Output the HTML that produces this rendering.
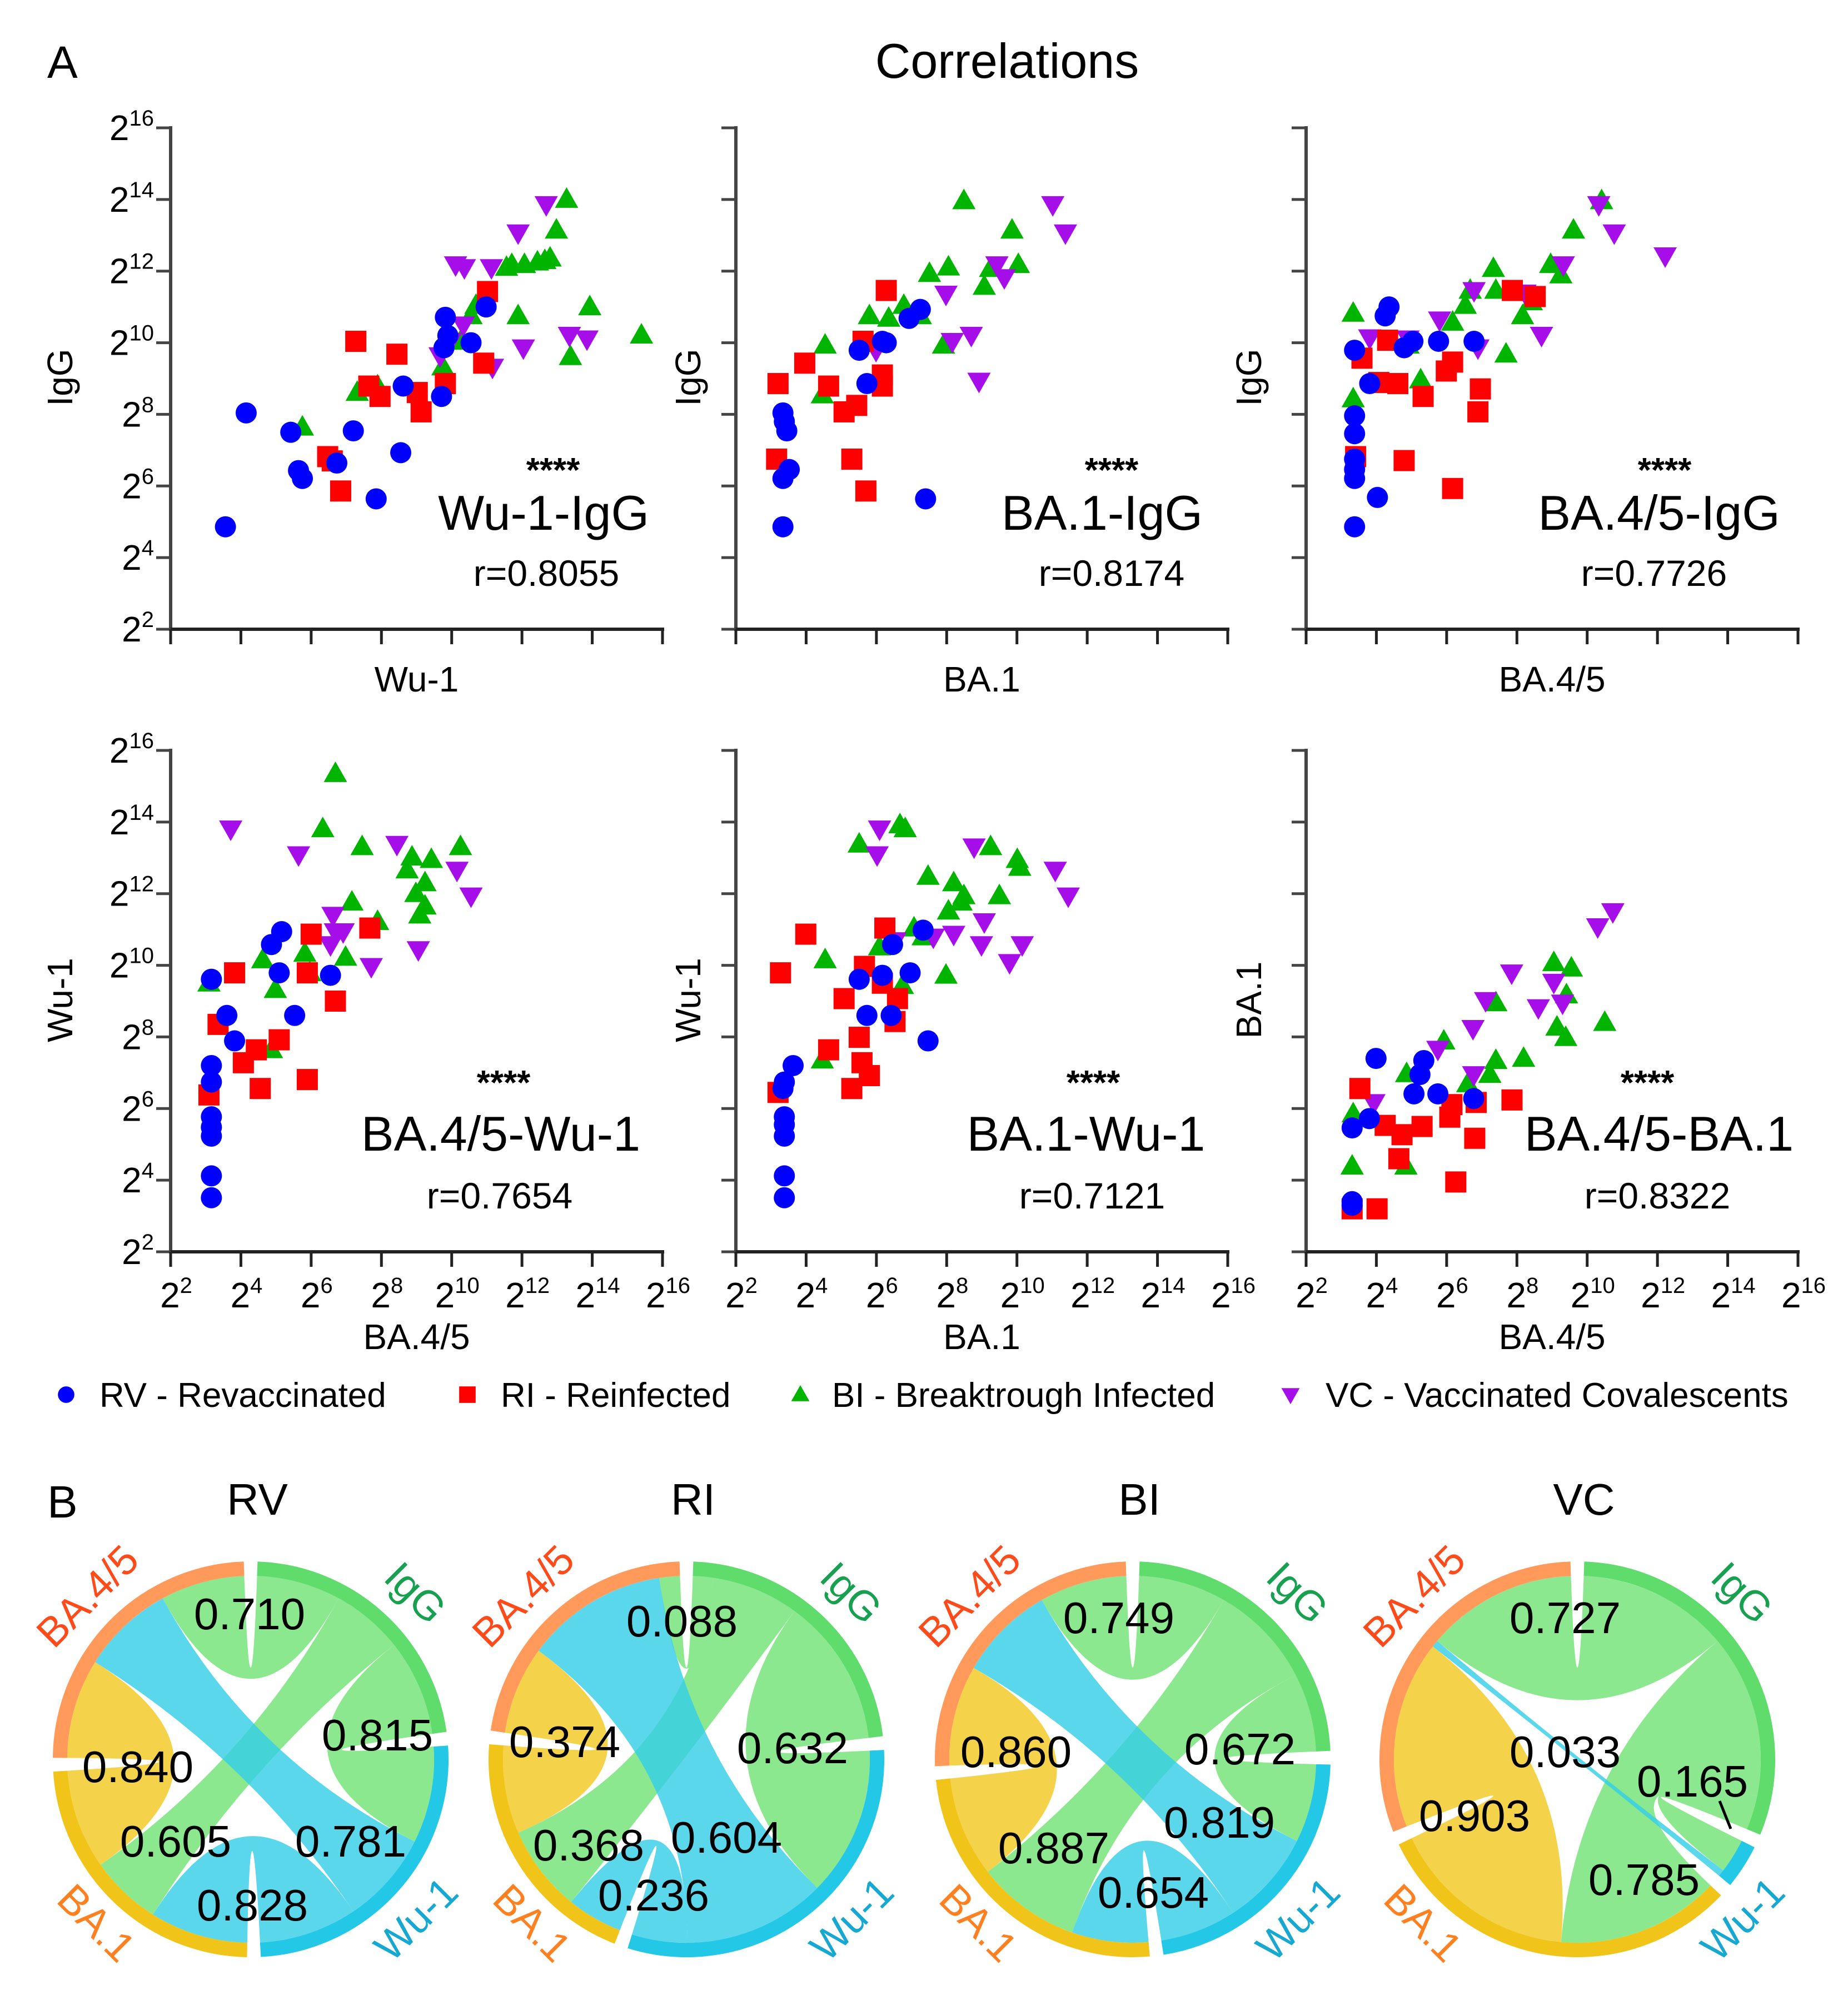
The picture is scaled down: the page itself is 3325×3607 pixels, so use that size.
<!DOCTYPE html>
<html><head><meta charset="utf-8"><style>
html,body{margin:0;padding:0;background:#fff;}
svg{display:block;font-family:"Liberation Sans",Arial,sans-serif;}
</style></head><body>
<svg id="fig" xmlns="http://www.w3.org/2000/svg" width="3325" height="3607" viewBox="0 0 3325 3607">
<rect width="3325" height="3607" fill="#fff"/>
<text x="85" y="140" font-size="82">A</text>
<text x="1812" y="140" font-size="88" text-anchor="middle">Correlations</text>
<text x="85" y="2730" font-size="82">B</text>
<g id="scatter"></g>
<g id="legend"></g>
<g id="chords"></g>
</svg>
<script>
// ---------- scatter data (log2 titers) ----------
const groupNames = ['RV - Revaccinated','RI - Reinfected','BI - Breaktrough Infected','VC - Vaccinated Covalescents'];
const wuIgG_RV = [[3.56,4.86],[4.15,8.04],[5.42,7.5],[5.64,6.43],[5.75,6.21],[6.73,6.64],[7.2,7.54],[7.85,5.64],[8.55,6.93],[8.62,8.79],[9.71,8.5],[9.78,9.86],[9.82,10.71],[10.55,10.0],[10.98,11.0],[9.89,10.2]];
const wuIgG_RI = [[6.47,6.82],[6.84,5.86],[7.27,10.04],[7.64,8.79],[7.96,8.5],[8.44,9.68],[9.02,8.61],[9.13,8.07],[9.82,8.86],[10.91,9.43],[11.02,11.43],[6.6,6.7]];
const wuIgG_BI = [[5.75,7.64],[7.31,8.61],[7.89,8.79],[9.75,9.32],[10.25,10.04],[10.55,10.75],[10.69,11.04],[11.89,10.75],[11.56,12.1],[11.71,12.18],[12.07,12.18],[12.44,12.25],[12.65,12.29],[12.8,12.36],[12.98,13.14],[13.27,14.0],[13.93,11.0],[13.38,9.61],[15.4,10.21]];
const wuIgG_VC = [[9.67,9.64],[10.33,10.5],[10.11,12.18],[10.36,12.1],[11.13,12.1],[11.89,13.07],[12.69,13.86],[12.04,9.86],[13.35,10.21],[13.85,10.11],[9.96,10.04],[11.16,9.32]];

const ba1IgG_RV = [[3.34,4.86],[3.34,8.04],[3.45,7.54],[3.52,6.46],[3.34,6.21],[5.73,8.86],[5.51,9.79],[6.17,10.04],[6.93,10.68],[7.25,10.93],[7.4,5.64],[6.28,10.0],[3.38,7.8]];
const ba1IgG_RI = [[3.2,8.86],[3.16,6.75],[3.96,9.43],[4.64,8.79],[5.08,8.07],[5.3,6.75],[5.44,8.25],[5.7,5.86],[5.62,10.04],[6.17,8.79],[6.28,11.46],[6.17,9.1]];
const ba1IgG_BI = [[4.46,8.54],[4.54,9.93],[5.8,10.75],[6.35,10.68],[6.78,11.04],[7.25,10.75],[7.51,11.93],[7.91,9.93],[8.05,12.11],[8.49,13.96],[9.07,11.57],[9.25,12.07],[9.86,13.14],[10.04,12.18]];
const ba1IgG_VC = [[5.99,9.79],[7.98,11.36],[8.16,10.04],[8.7,10.21],[8.92,8.93],[9.43,12.18],[9.64,11.82],[11.02,13.86],[11.38,13.07]];

const ba45IgG_RV = [[3.38,4.86],[4.03,5.68],[3.38,6.21],[3.38,6.46],[3.38,6.75],[3.38,7.46],[3.38,7.96],[3.38,9.79],[3.81,8.86],[4.25,10.75],[4.36,11.0],[5.04,10.04],[5.77,10.04],[6.78,10.04],[4.79,9.86]];
const ba45IgG_RI = [[3.41,6.82],[3.59,9.57],[4.07,8.89],[4.61,8.86],[4.79,6.71],[5.33,8.5],[5.99,9.21],[6.17,9.46],[6.17,5.93],[6.89,8.07],[6.96,8.71],[7.87,11.46],[8.52,11.29],[4.32,10.07]];
const ba45IgG_BI = [[3.34,10.82],[3.34,8.43],[4.9,9.93],[5.26,8.96],[6.17,10.57],[6.53,11.04],[6.67,11.46],[7.33,12.07],[7.4,11.46],[7.69,9.68],[8.16,10.75],[8.96,12.18],[9.25,11.89],[9.61,13.14],[10.41,13.96],[8.41,11.14]];
const ba45IgG_VC = [[3.81,10.14],[4.9,10.11],[5.8,10.64],[6.89,9.86],[6.78,11.46],[8.23,11.39],[8.7,10.21],[9.32,12.18],[10.33,13.86],[10.77,13.07],[12.22,12.43]];

const ba45Wu_RV = [[3.16,3.51],[3.16,4.12],[3.16,5.23],[3.16,5.48],[3.16,5.77],[3.16,6.74],[3.16,7.2],[3.16,9.61],[3.6,8.6],[3.82,7.89],[4.87,10.58],[5.16,10.94],[5.09,9.79],[5.53,8.6],[6.55,9.72]];
const ba45Wu_RI = [[3.09,6.38],[3.35,8.35],[3.82,9.79],[4.07,7.28],[4.44,7.64],[4.55,6.56],[5.09,7.92],[5.89,6.81],[6.0,10.87],[5.89,9.79],[6.69,9.0],[7.67,11.04]];
const ba45Wu_BI = [[3.09,9.5],[4.62,10.15],[4.98,9.32],[4.87,7.64],[5.82,10.33],[6.33,13.81],[6.69,15.35],[6.98,10.22],[7.16,11.76],[7.45,13.31],[7.89,11.22],[8.73,12.66],[8.87,13.02],[8.98,12.0],[9.09,11.4],[9.24,12.3],[9.24,11.65],[9.42,12.95],[10.25,13.31],[5.96,9.79]];
const ba45Wu_VC = [[3.71,13.81],[5.64,13.09],[6.55,10.58],[6.69,10.94],[6.91,10.94],[7.71,9.97],[8.44,13.38],[9.05,10.44],[10.15,12.66],[10.55,11.94],[6.62,11.4]];

const ba1Wu_RV = [[3.38,3.51],[3.38,4.12],[3.38,5.23],[3.38,5.55],[3.38,5.77],[3.38,6.74],[3.63,7.2],[3.34,6.56],[5.51,9.61],[5.73,8.6],[6.17,9.72],[6.42,8.6],[6.96,9.79],[7.33,10.98],[7.47,7.89],[6.46,10.58]];
const ba1Wu_RI = [[3.2,6.45],[3.27,9.79],[3.99,10.87],[4.64,7.64],[5.08,9.07],[5.3,6.56],[5.51,7.99],[5.59,7.28],[5.8,6.92],[5.66,9.97],[6.17,9.5],[6.24,11.04],[6.53,8.43],[6.6,9.07]];
const ba1Wu_BI = [[4.46,7.35],[4.54,10.15],[5.51,13.38],[6.09,10.51],[6.67,13.92],[6.74,9.43],[7.07,11.04],[7.33,10.79],[7.47,12.48],[7.98,9.72],[8.05,11.51],[8.2,12.3],[8.41,11.76],[8.49,11.94],[9.25,13.31],[9.5,11.94],[10.01,12.95],[10.08,12.73],[6.82,13.81]];
const ba1Wu_VC = [[6.02,13.09],[6.09,13.81],[6.53,10.69],[7.62,10.79],[8.2,10.87],[8.78,13.31],[8.99,10.58],[9.79,10.08],[10.15,10.58],[11.09,12.66],[11.46,11.94],[9.07,11.22]];

const ba45Ba1_RV = [[3.31,5.46],[3.31,3.4],[3.31,3.3],[3.8,5.72],[3.99,7.4],[5.07,6.41],[5.24,6.95],[5.35,7.34],[5.75,6.41],[6.77,6.28]];
const ba45Ba1_RI = [[3.31,3.2],[4.02,3.2],[3.53,6.56],[4.25,5.53],[4.73,5.27],[4.64,4.6],[5.3,5.5],[6.09,5.76],[6.15,6.11],[6.8,5.17],[6.26,3.95],[6.84,6.17],[7.86,6.24]];
const ba45Ba1_BI = [[3.31,4.39],[3.34,5.85],[4.84,4.39],[4.86,6.97],[5.18,5.46],[5.92,7.88],[6.6,6.69],[7.23,6.95],[7.4,7.34],[7.4,8.95],[8.19,7.4],[9.05,10.07],[9.14,8.27],[9.39,7.98],[9.41,9.17],[9.55,9.92],[10.5,8.4]];
const ba45Ba1_VC = [[3.93,6.17],[5.75,7.66],[6.77,6.95],[6.75,8.24],[7.11,9.02],[7.85,9.79],[8.61,8.82],[9.05,9.53],[9.3,8.95],[10.3,11.08],[10.73,11.5]];

const tickExponents = [2,4,6,8,10,12,14,16];
const panelTitles = ['Wu-1-IgG','BA.1-IgG','BA.4/5-IgG','BA.4/5-Wu-1','BA.1-Wu-1','BA.4/5-BA.1'];
const panelR = ['r=0.8055','r=0.8174','r=0.7726','r=0.7654','r=0.7121','r=0.8322'];
const panelX = ['Wu-1','BA.1','BA.4/5','BA.4/5','BA.1','BA.4/5'];
const panelY = ['IgG','IgG','IgG','Wu-1','Wu-1','BA.1'];

// ---------- chord data ----------
const chordGroups = ['IgG','Wu-1','BA.1','BA.4/5'];
const chordPairs = [[0,1],[0,2],[0,3],[1,2],[1,3],[2,3]];
const chordTitles = ['RV','RI','BI','VC'];
const rvValues = [0.815,0.605,0.710,0.828,0.781,0.840];
const riValues = [0.632,0.368,0.088,0.236,0.604,0.374];
const biValues = [0.672,0.887,0.749,0.654,0.819,0.860];
const vcValues = [0.165,0.785,0.727,0,0.033,0.903];

const NS='http://www.w3.org/2000/svg';
function mk(tag, attrs, parent){const e=document.createElementNS(NS,tag);for(const k in attrs)e.setAttribute(k,attrs[k]);if(parent)parent.appendChild(e);return e;}

const colors=['#0000ff','#ff0000','#00b400','#a50ee8'];
function marker(g,type,x,y){
  let e;
  if(type===0){e=mk('circle',{cx:x,cy:y,r:19,fill:colors[0]},g);}
  else if(type===1){e=mk('rect',{x:x-19,y:y-19,width:38,height:38,fill:colors[1]},g);}
  else if(type===2){e=mk('polygon',{points:`${x},${y-22} ${x-21},${y+15} ${x+21},${y+15}`,fill:colors[2]},g);}
  else {e=mk('polygon',{points:`${x},${y+22} ${x-21},${y-15} ${x+21},${y-15}`,fill:colors[3]},g);}
  return e;
}

const scatterRoot=document.getElementById('scatter');
const panelData=[[wuIgG_RV,wuIgG_RI,wuIgG_BI,wuIgG_VC],[ba1IgG_RV,ba1IgG_RI,ba1IgG_BI,ba1IgG_VC],[ba45IgG_RV,ba45IgG_RI,ba45IgG_BI,ba45IgG_VC],[ba45Wu_RV,ba45Wu_RI,ba45Wu_BI,ba45Wu_VC],[ba1Wu_RV,ba1Wu_RI,ba1Wu_BI,ba1Wu_VC],[ba45Ba1_RV,ba45Ba1_RI,ba45Ba1_BI,ba45Ba1_VC]];
const colX=[307,1324,2350], rowY=[230,1350], W=885, H=902;
const annTitleX=[978,1983,2985,901,1954,2985];
const annStarsX=[995,2000,2995,906,1967,2964];
const annRX=[983,2000,2976,899,1965,2982];
const annY=[[837,921,1030],[1939,2038,2150]];
const yTitleX=[108,1238,2247];

for(let p=0;p<6;p++){
  const col=p%3,row=Math.floor(p/3);
  const x0=colX[col],y0=rowY[row];
  const sx=v=>x0+(v-2)/14*W, sy=v=>y0+(16-v)/14*H;
  const g=mk('g',{},scatterRoot);
  
  
  // axes
  const ya=mk('line',{x1:x0,y1:y0-3,x2:x0,y2:y0+H,stroke:'#444','stroke-width':6},g);
  
  
  const xa=mk('line',{x1:x0-3,y1:y0+H,x2:x0+W+3,y2:y0+H,stroke:'#222','stroke-width':6},g);
  
  
  tickExponents.forEach(t=>{
    mk('line',{x1:x0-26,y1:sy(t),x2:x0,y2:sy(t),stroke:'#444','stroke-width':5},g);
    mk('line',{x1:sx(t),y1:y0+H,x2:sx(t),y2:y0+H+27,stroke:'#222','stroke-width':5},g);
    if(col===0){
      const tl=mk('text',{x:x0-30,y:sy(t)+22,'font-size':64,'text-anchor':'end'},g);
      
      
      tl.appendChild(document.createTextNode('2'));
      const s=mk('tspan',{dy:-26,'font-size':40},tl); s.textContent=t;
    }
    if(row===1){
      const tl=mk('text',{x:sx(t)+10,y:y0+H+100,'font-size':64,'text-anchor':'middle'},g);
      
      
      tl.appendChild(document.createTextNode('2'));
      const s=mk('tspan',{dy:-26,'font-size':40},tl); s.textContent=t;
    }
  });
  // titles
  const xt=mk('text',{x:x0+W/2,y:row===0?y0+H+112:y0+H+175,'font-size':64,'text-anchor':'middle'},g);
  xt.textContent=panelX[p];
  
  
  const yc=y0+H/2-2;
  const yt=mk('text',{x:yTitleX[col]+22,y:yc,'font-size':64,'text-anchor':'middle',transform:`rotate(-90 ${yTitleX[col]+22} ${yc})`},g);
  yt.textContent=panelY[p];
  
  
  // points
  const order=[2,3,1,0];
  order.forEach(gi=>{
    panelData[p][gi].forEach(pt=>{
      const m=marker(g,gi,sx(pt[0]),sy(pt[1]));
      
      
    });
  });
  // annotations
  const ay=annY[row];
  const st=mk('text',{x:annStarsX[p],y:ay[0]+30,'font-size':62,'text-anchor':'middle','font-weight':'bold'},g);
  st.textContent='****';
  
  
  const tt=mk('text',{x:annTitleX[p],y:ay[1]+32,'font-size':88,'text-anchor':'middle'},g);
  tt.textContent=panelTitles[p];
  
  
  const rt=mk('text',{x:annRX[p],y:ay[2]+24,'font-size':66,'text-anchor':'middle'},g);
  rt.textContent=panelR[p];
  
  
}

// ---------- legend ----------
const leg=document.getElementById('legend');
const legSymX=[119,841,1440,2322], legTxtX=[179,901,1497,2385];
groupNames.forEach((n,i)=>{
  const ge=mk('g',{},leg);
  
  
  const m=marker(ge,i,legSymX[i],2509);
  m.setAttribute('transform',`translate(${legSymX[i]} 2509) scale(0.78) translate(${-legSymX[i]} -2509)`);
  const t=mk('text',{x:legTxtX[i],y:2531,'font-size':62},ge);
  t.textContent=n;
});

// ---------- chord diagrams ----------
const chordRoot=document.getElementById('chords');
const chordSets=[rvValues,riValues,biValues,vcValues];
const chordCX=[451,1235,2038,2838], chordCY=3165;
const ringColors=['#5fdc6b','#22c8e6','#f0c419','#ff9a5a'];
const labelColors=['#16a050','#16a8d0','#ff8020','#ff4a1a'];
const labelOff=[[297,-300,45],[297,287,-45],[-277,294,45],[-294,-294,-45]];
const valuePos=[
 [[679,3121],[316,3312],[449,2903],[454,3427],[631,3312],[248,3178]],
 [[1426,3144],[1059,3319],[1227,2916],[1176,3409],[1307,3305],[1016,3133]],
 [[2231,3146],[1896,3324],[2013,2910],[2075,3404],[2194,3278],[1828,3151]],
 [[3045,3204],[2958,3381],[2816,2910],[null],[2816,3151],[2653,3266]]];
const Rc=330, Rr=343;
function P(cx,cy,r,a){const t=a*Math.PI/180;return [cx+r*Math.sin(t),cy-r*Math.cos(t)];}
function arcPath(cx,cy,r,a0,a1){const p0=P(cx,cy,r,a0),p1=P(cx,cy,r,a1);return `M${p0[0]},${p0[1]} A${r},${r} 0 ${a1-a0>180?1:0} 1 ${p1[0]},${p1[1]}`;}

chordSets.forEach((vals,d)=>{
  const cx=chordCX[d],cy=chordCY;
  const g=mk('g',{},chordRoot);
  
  
  const tt=mk('text',{x:cx+12,y:2725,'font-size':80,'text-anchor':'middle'},g);
  tt.textContent=chordTitles[d];
  
  
  // matrix
  const M=[[0,0,0,0],[0,0,0,0],[0,0,0,0],[0,0,0,0]];
  chordPairs.forEach((pr,k)=>{M[pr[0]][pr[1]]=vals[k];M[pr[1]][pr[0]]=vals[k];});
  const tot=M.map(r=>r.reduce((a,b)=>a+b,0));
  const all=tot.reduce((a,b)=>a+b,0);
  const gap=4, span=360-4*gap;
  const seg={}; let a=gap/2;
  const grpA=[];
  for(let gi=0;gi<4;gi++){
    const a0=a;
    [3,2,1].forEach(k=>{const tj=(gi+k)%4;const w=M[gi][tj]/all*span;seg[gi+'-'+tj]=[a,a+w];a+=w;});
    grpA.push([a0,a]); a+=gap;
  }
  // ribbons
  const drawOrder=[5,0,1,2,3,4];
  drawOrder.forEach(k=>{
    const [i,j]=chordPairs[k]; if(vals[k]<=0)return;
    const s=seg[i+'-'+j],t=seg[j+'-'+i];
    const s0=P(cx,cy,Rc,s[0]),s1=P(cx,cy,Rc,s[1]),t0=P(cx,cy,Rc,t[0]),t1=P(cx,cy,Rc,t[1]);
    const dpath=`M${s0} A${Rc},${Rc} 0 0 1 ${s1} Q${cx},${cy} ${t0} A${Rc},${Rc} 0 0 1 ${t1} Q${cx},${cy} ${s0} Z`;
    let fill='#f4d24a',op=1;
    if(i===0){fill='#8ce88f';}
    else if(i===1){fill='#32cde7';op=0.8;}
    const rb=mk('path',{d:dpath,fill:fill,'fill-opacity':op},g);
    
    
  });
  // ring arcs
  grpA.forEach((ga,gi)=>{
    const ar=mk('path',{d:arcPath(cx,cy,Rr,ga[0],ga[1]),fill:'none',stroke:ringColors[gi],'stroke-width':26},g);
    
    
    const lo=labelOff[gi];
    const lx=cx+lo[0],ly=cy+lo[1];
    const lt=mk('text',{x:lx,y:ly+26,'font-size':74,'text-anchor':'middle',fill:labelColors[gi],transform:`rotate(${lo[2]} ${lx} ${ly})`},g);
    lt.textContent=chordGroups[gi];
    
    
  });
  // values
  vals.forEach((v,k)=>{
    const pos=valuePos[d][k]; if(!pos||pos[0]==null||v<=0)return;
    const vt=mk('text',{x:pos[0],y:pos[1]+28,'font-size':80,'text-anchor':'middle'},g);
    vt.textContent=v.toFixed(3);
    
    
  });
  if(d===3){
    const ln=mk('line',{x1:3094,y1:3240,x2:3114,y2:3290,stroke:'#000','stroke-width':5},g);
    
    
  }
});
</script>
</body></html>
